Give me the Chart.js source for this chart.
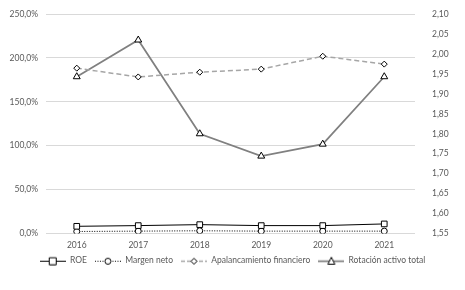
<!DOCTYPE html>
<html>
<head>
<meta charset="utf-8">
<script src="https://cdn.jsdelivr.net/npm/chart.js@4"></script>
<style>
  html, body { margin: 0; padding: 0; background: #fff; }
  #wrap { width: 465px; height: 290px; position: relative; }
</style>
</head>
<body>
<div id="wrap"><canvas id="grafico"></canvas></div>
<script>
// datos
const anios = ["2016", "2017", "2018", "2019", "2020", "2021"];
const roe = [8.2, 9.0, 10.1, 9.0, 9.0, 10.9];
const margenNeto = [2.3, 2.7, 3.1, 2.7, 2.7, 2.7];
const apalancamiento = [188.4, 178.4, 183.8, 187.3, 202.0, 193.0];
const rotacion = [1.943, 2.035, 1.800, 1.744, 1.774, 1.943];

const fuente = { family: "Lato, 'Liberation Sans', sans-serif", size: 8.5 };
const colorTexto = "#595959";

// icono de leyenda: línea + marcador
function iconoLeyenda(color, dash, ancho, marcador) {
    const c = document.createElement("canvas");
    c.width = 26; c.height = 10;
    const ctx = c.getContext("2d");
    ctx.strokeStyle = color;
    ctx.lineWidth = ancho;
    ctx.setLineDash(dash);
    ctx.beginPath();
    ctx.moveTo(0, 5.5); ctx.lineTo(26, 5.5);
    ctx.stroke();
    ctx.setLineDash([]);
    ctx.strokeStyle = "#000";
    ctx.fillStyle = "#fff";
    ctx.lineWidth = 1;
    ctx.beginPath();
    if (marcador === "rect") {
        ctx.rect(9.5, 2, 7, 7);
    } else if (marcador === "circle") {
        ctx.arc(13, 5.5, 3, 0, Math.PI * 2);
    } else if (marcador === "rectRot") {
        ctx.moveTo(13, 2.5); ctx.lineTo(16, 5.5); ctx.lineTo(13, 8.5); ctx.lineTo(10, 5.5); ctx.closePath();
    } else {
        ctx.moveTo(13, 1.5); ctx.lineTo(16.5, 8.5); ctx.lineTo(9.5, 8.5); ctx.closePath();
    }
    ctx.fill();
    ctx.stroke();
    return c;
}

const iconos = [
    iconoLeyenda("#000", [], 1, "rect"),
    iconoLeyenda("#000", [1, 1.5], 1, "circle"),
    iconoLeyenda("#a6a6a6", [4, 2], 1.5, "rectRot"),
    iconoLeyenda("#808080", [], 1.75, "triangle")
];

function coma(v, dec) {
    return v.toFixed(dec).replace(".", ",");
}

new Chart(document.getElementById("grafico"), {
    type: "line",
    data: {
        labels: anios,
        datasets: [
            {
                label: "ROE",
                data: roe,
                yAxisID: "y",
                borderColor: "#000",
                borderWidth: 1,
                pointStyle: "rect",
                pointRadius: 4,
                pointBorderColor: "#000",
                pointBackgroundColor: "#fff",
                pointBorderWidth: 1
            },
            {
                label: "Margen neto",
                data: margenNeto,
                yAxisID: "y",
                borderColor: "#000",
                borderWidth: 1,
                borderDash: [1, 1.5],
                pointStyle: "circle",
                pointRadius: 3,
                pointBorderColor: "#000",
                pointBackgroundColor: "#fff",
                pointBorderWidth: 1
            },
            {
                label: "Apalancamiento financiero",
                data: apalancamiento,
                yAxisID: "y",
                borderColor: "#a6a6a6",
                borderWidth: 1.5,
                borderDash: [5, 3],
                pointStyle: "rectRot",
                pointRadius: 3,
                pointBorderColor: "#000",
                pointBackgroundColor: "#fff",
                pointBorderWidth: 1
            },
            {
                label: "Rotación activo total",
                data: rotacion,
                yAxisID: "y1",
                borderColor: "#808080",
                borderWidth: 1.75,
                pointStyle: "triangle",
                pointRadius: 4,
                pointBorderColor: "#000",
                pointBackgroundColor: "#fff",
                pointBorderWidth: 1
            }
        ]
    },
    options: {
        responsive: true,
        maintainAspectRatio: false,
        animation: false,
        layout: { padding: { top: 13, left: 0, right: 0, bottom: 15 } },
        plugins: {
            tooltip: { enabled: false },
            legend: {
                position: "bottom",
                labels: {
                    font: fuente,
                    color: colorTexto,
                    usePointStyle: true,
                    pointStyleWidth: 26,
                    boxHeight: 10,
                    padding: 8,
                    generateLabels: (chart) => chart.data.datasets.map((ds, i) => ({
                        text: ds.label,
                        pointStyle: iconos[i],
                        fontColor: colorTexto,
                        lineWidth: 0,
                        datasetIndex: i
                    }))
                }
            }
        },
        scales: {
            x: {
                offset: true,
                grid: { display: false },
                border: { display: false },
                ticks: { font: fuente, color: colorTexto, padding: -1 },
                afterFit: (s) => { s.height = 15; }
            },
            y: {
                position: "left",
                min: 0,
                max: 250,
                grid: { color: "#d9d9d9", drawTicks: false },
                border: { display: false },
                ticks: {
                    stepSize: 50,
                    font: fuente,
                    color: colorTexto,
                    padding: 8,
                    callback: (v) => coma(v, 1) + "%"
                },
                afterFit: (s) => { s.width = 46; }
            },
            y1: {
                position: "right",
                min: 1.55,
                max: 2.10,
                grid: { display: false },
                border: { display: false },
                ticks: {
                    stepSize: 0.05,
                    font: fuente,
                    color: colorTexto,
                    padding: 9,
                    callback: (v) => coma(v, 2)
                },
                afterFit: (s) => { s.width = 50; }
            }
        }
    }
});
</script>
</body>
</html>
